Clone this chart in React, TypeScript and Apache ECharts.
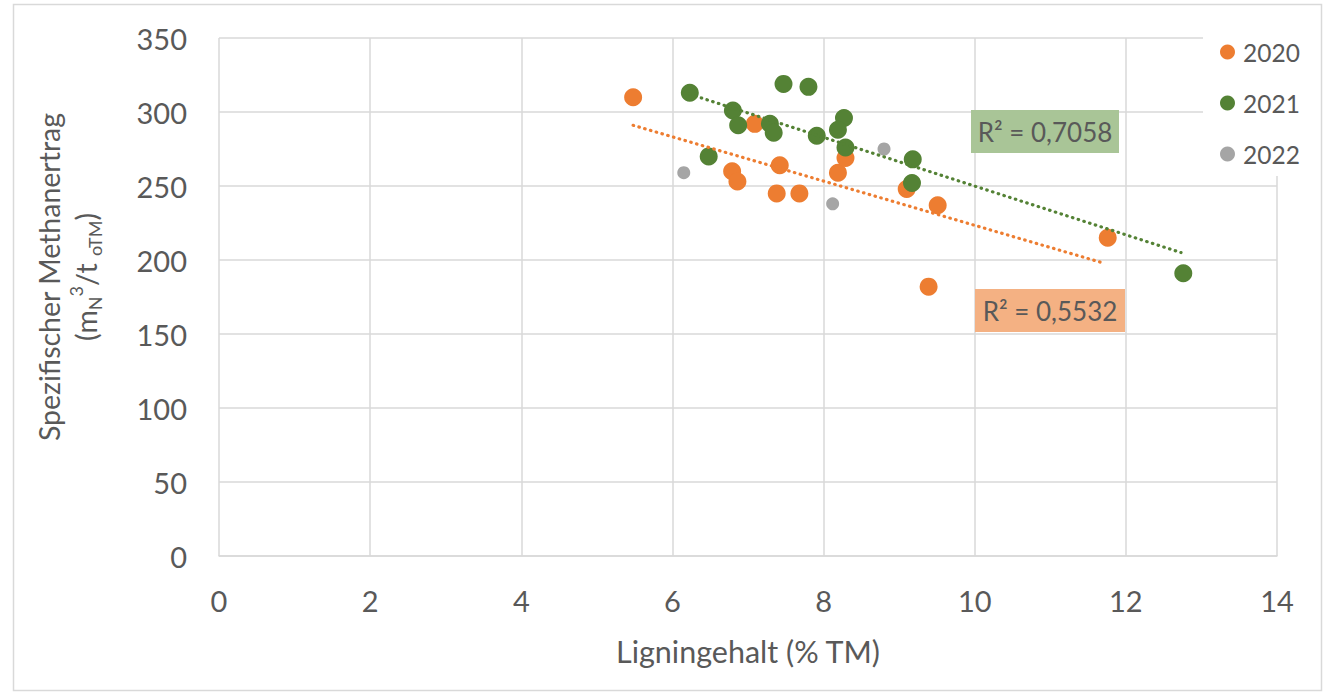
import React, { useEffect, useRef } from "react";
import * as echarts from "echarts";

// Data
const x2020 = [5.48, 7.09, 6.79, 6.86, 7.42, 7.38, 7.68, 8.19, 8.29, 9.1, 9.51, 9.39, 11.76];
const y2020 = [310, 292, 260, 253, 264, 245, 245, 259, 269, 248, 237, 182, 215];

const x2021 = [6.23, 7.47, 7.8, 6.8, 6.87, 7.29, 7.34, 7.91, 8.27, 8.19, 8.29, 6.48, 9.18, 9.17, 12.76];
const y2021 = [313, 319, 317, 301, 291, 292, 286, 284, 296, 288, 276, 270, 268, 252, 191];

const x2022 = [6.15, 8.8, 8.12];
const y2022 = [259, 275, 238];

// Linear trendline end points (as drawn in the reference)
const trend2020 = [
  [5.48, 291],
  [11.7, 198],
];
const trend2021 = [
  [6.23, 312],
  [12.73, 205],
];

const r2Labels = ["R² = 0,7058", "R² = 0,5532"];
const seriesNames = ["2020", "2021", "2022"];
const colors = ["#ED7D31", "#548235", "#A5A5A5"];

const FONT = "Lato, 'Open Sans', sans-serif";
const TXT = "#595959";
const GRID = "#d9d9d9";

const zip = (xs: number[], ys: number[]) => xs.map((x, i) => [x, ys[i]]);

export default function App() {
  const ref = useRef<HTMLDivElement>(null);
  useEffect(() => {
    if (!ref.current) return;
    const chart = echarts.init(ref.current, null, { renderer: "svg" });
    const dotted = { type: [0.5, 5.5] as any, width: 3.2, cap: "round" as any };
    chart.setOption({
      animation: false,
      backgroundColor: "#fff",
      textStyle: { fontFamily: FONT },
      grid: { left: 219, right: 47, top: 38, bottom: 139, containLabel: false },
      xAxis: {
        type: "value",
        min: 0,
        max: 14,
        interval: 2,
        axisLine: { show: true, lineStyle: { color: GRID, width: 1.5 } },
        axisTick: { show: false },
        splitLine: { show: true, lineStyle: { color: GRID, width: 1.5 } },
        axisLabel: { fontSize: 29, color: TXT, margin: 30, fontFamily: FONT },
        name: "Ligningehalt (% TM)",
        nameLocation: "middle",
        nameGap: 79,
        nameTextStyle: { fontSize: 30.5, color: TXT, fontFamily: FONT },
      },
      yAxis: {
        type: "value",
        min: 0,
        max: 350,
        interval: 50,
        axisLine: { show: false },
        axisTick: { show: false },
        splitLine: { show: true, lineStyle: { color: GRID, width: 1.5 } },
        axisLabel: { fontSize: 29, color: TXT, margin: 32, fontFamily: FONT },
      },
      legend: {
        orient: "vertical",
        left: 1203,
        top: 30,
        padding: [7, 19, 7, 17],
        backgroundColor: "#fff",
        itemWidth: 15,
        itemHeight: 15,
        itemGap: 21,
        icon: "circle",
        data: seriesNames,
        textStyle: {
          fontSize: 24.5,
          color: TXT,
          fontFamily: FONT,
          lineHeight: 30,
          padding: [0, 0, 0, 3],
        },
      },
      graphic: [
        {
          type: "rect",
          shape: { x: 13.5, y: 4.5, width: 1308, height: 686 },
          style: { fill: "none", stroke: GRID, lineWidth: 1.5 },
          silent: true,
          z: 100,
        },
        {
          type: "text",
          x: 67,
          y: 277,
          rotation: Math.PI / 2,
          style: {
            text:
              "{a|Spezifischer Methanertrag}\n{a|(m}{sub|N}{sup|3}{a|/t }{sub|oTM}{a|)}",
            align: "center",
            verticalAlign: "middle",
            fill: TXT,
            rich: {
              a: { fontSize: 28.5, fontFamily: FONT, fill: TXT, color: TXT, lineHeight: 37 },
              sub: {
                fontSize: 18,
                fontFamily: FONT,
                color: TXT,
                fill: TXT,
                lineHeight: 19,
                verticalAlign: "bottom",
              },
              sup: {
                fontSize: 18,
                fontFamily: FONT,
                color: TXT,
                fill: TXT,
                lineHeight: 19,
                verticalAlign: "top",
              },
            },
          },
        },
        {
          type: "rect",
          shape: { x: 971, y: 110, width: 148, height: 43 },
          style: { fill: "#a9c597" },
          z: 50,
        },
        {
          type: "text",
          x: 1045,
          y: 131.5,
          style: {
            text: r2Labels[0],
            align: "center",
            verticalAlign: "middle",
            fill: TXT,
            fontSize: 26,
            fontFamily: FONT,
          },
          z: 51,
        },
        {
          type: "rect",
          shape: { x: 975, y: 289, width: 150, height: 43 },
          style: { fill: "#f4b183" },
          z: 50,
        },
        {
          type: "text",
          x: 1050,
          y: 310.5,
          style: {
            text: r2Labels[1],
            align: "center",
            verticalAlign: "middle",
            fill: TXT,
            fontSize: 26,
            fontFamily: FONT,
          },
          z: 51,
        },
      ],
      series: [
        {
          name: seriesNames[0],
          type: "scatter",
          data: zip(x2020, y2020),
          symbolSize: 18,
          itemStyle: { color: colors[0], opacity: 1 },
          z: 3,
        },
        {
          name: seriesNames[1],
          type: "scatter",
          data: zip(x2021, y2021),
          symbolSize: 18,
          itemStyle: { color: colors[1], opacity: 1 },
          z: 4,
        },
        {
          name: seriesNames[2],
          type: "scatter",
          data: zip(x2022, y2022),
          symbolSize: 13,
          itemStyle: { color: colors[2], opacity: 1 },
          z: 3,
        },
        {
          name: "Trend 2020",
          type: "line",
          data: trend2020,
          showSymbol: false,
          symbol: "none",
          lineStyle: { ...dotted, color: colors[0] },
          z: 5,
        },
        {
          name: "Trend 2021",
          type: "line",
          data: trend2021,
          showSymbol: false,
          symbol: "none",
          lineStyle: { ...dotted, color: colors[1] },
          z: 5,
        },
      ],
    });
    return () => chart.dispose();
  }, []);
  return (
    <div
      ref={ref}
      style={{ position: "fixed", left: 0, top: 0, width: 1324, height: 695 }}
    />
  );
}
